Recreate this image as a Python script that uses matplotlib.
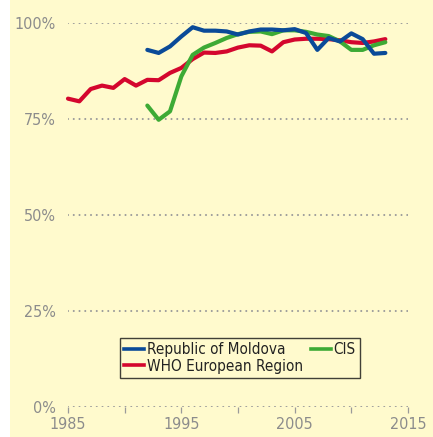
import matplotlib
matplotlib.use("Agg")
import matplotlib.pyplot as plt
from matplotlib.lines import Line2D

plt.rcParams['font.family'] = ['Liberation Sans Narrow', 'DejaVu Sans']
plt.rcParams['font.stretch'] = 'condensed'

years_who = list(range(1985, 2014))
who = [80.3, 79.6, 82.8, 83.7, 83.1, 85.4, 83.7, 85.2, 85.1, 87.0, 88.3, 90.6,
       92.3, 92.2, 92.6, 93.6, 94.2, 94.1, 92.6, 95.0, 95.7, 95.9, 95.9, 95.8,
       95.5, 95.0, 94.8, 95.2, 95.8]
years_mda = list(range(1992, 2014))
moldova = [93.0, 92.2, 93.9, 96.5, 98.9, 98.0, 98.0, 97.8, 97.0, 97.8, 98.3,
           98.3, 98.1, 98.4, 97.4, 93.0, 96.1, 95.2, 97.3, 95.8, 92.0, 92.2]
cis = [78.5, 74.8, 77.0, 86.1, 91.7, 93.6, 94.8, 96.1, 97.1, 97.7, 97.8, 97.1,
       98.1, 98.1, 97.7, 97.0, 96.6, 95.2, 93.0, 93.0, 94.2, 95.0]

yticks = [0, 25, 50, 75, 100]
ytick_labels = ['0%', '25%', '50%', '75%', '100%']
xticks_minor = [1985, 1990, 1995, 2000, 2005, 2010, 2015]
xtick_labels = [1985, 1995, 2005, 2015]

bg = '#FFFACD'
gray = '#8C8C8C'
c_mda = '#0A4A98'
c_cis = '#3DAA35'
c_who = '#D4062E'

fig = plt.figure(figsize=(4.33, 4.37), dpi=100, facecolor='white')
fig.patches.append(plt.Rectangle((10 / 433, 0), 1, 1, transform=fig.transFigure,
                                 facecolor=bg, edgecolor='none', zorder=-10))
ax = fig.add_axes([68 / 433, 30 / 437, 340 / 433, 384 / 437])
ax.set_facecolor('none')
ax.set_xlim(1985, 2015)
ax.set_ylim(0, 100)
for s in ax.spines.values():
    s.set_visible(False)

for yv in yticks:
    ax.plot([1985, 2015], [yv, yv], color='#9A9A9A', lw=1.5,
            linestyle=(0, (0.01, 2.75)), dash_capstyle='round', zorder=1)

ax.set_yticks(yticks)
ax.set_yticklabels(ytick_labels)
ax.set_xticks(xtick_labels)
ax.set_xticklabels([str(v) for v in xtick_labels])
ax.set_xticks(xticks_minor, minor=True)
ax.tick_params(axis='y', length=0, pad=9, labelsize=11.5, labelcolor=gray)
ax.tick_params(axis='x', which='both', length=4, width=0.9, color='#9A9A9A',
               direction='out', pad=3, labelsize=11.5, labelcolor=gray)

lw = 3.0
ax.plot(years_who, who, color=c_who, lw=lw, solid_joinstyle='round',
        solid_capstyle='round', zorder=3, clip_on=False)
ax.plot(years_mda, cis, color=c_cis, lw=lw, solid_joinstyle='round',
        solid_capstyle='round', zorder=4, clip_on=False)
ax.plot(years_mda, moldova, color=c_mda, lw=lw, solid_joinstyle='round',
        solid_capstyle='round', zorder=5, clip_on=False)

handles = [Line2D([], [], color=c_mda, lw=2.6),
           Line2D([], [], color=c_who, lw=2.6),
           Line2D([], [], color=c_cis, lw=2.6)]
labels = ['Republic of Moldova', 'WHO European Region', 'CIS']
leg = ax.legend(handles, labels, ncol=2, loc='center',
                bbox_to_anchor=(240 / 433, 1 - 358 / 437), bbox_transform=fig.transFigure,
                fontsize=11, frameon=True, fancybox=False, handlelength=1.3,
                handletextpad=0.2, columnspacing=0.5, labelspacing=0.1,
                borderpad=0.3, labelcolor='#222222')
leg.get_frame().set_edgecolor('#111111')
leg.get_frame().set_linewidth(1.0)
leg.get_frame().set_facecolor(bg)

fig.savefig('out.png', dpi=100, facecolor='white')
